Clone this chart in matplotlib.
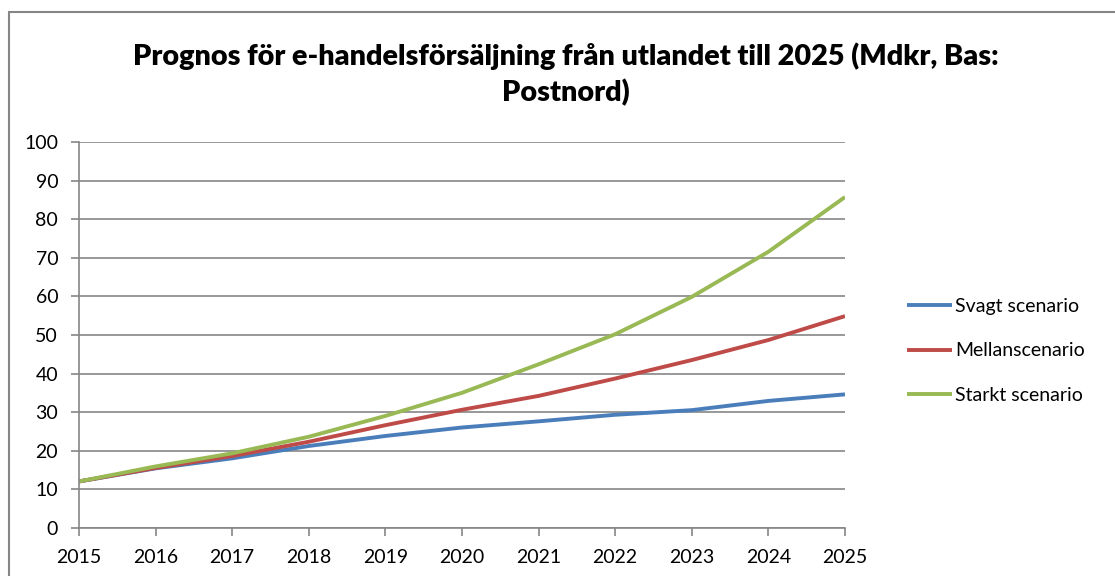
import matplotlib
matplotlib.use("Agg")
import matplotlib.pyplot as plt
from matplotlib.patches import Rectangle

plt.rcParams['font.family'] = ['Lato', 'DejaVu Sans']

years = [2015, 2016, 2017, 2018, 2019, 2020, 2021, 2022, 2023, 2024, 2025]
svagt = [12.0, 15.4, 18.0, 21.2, 23.8, 26.0, 27.6, 29.3, 30.5, 32.9, 34.6]
mellan = [12.0, 15.5, 18.6, 22.3, 26.6, 30.6, 34.2, 38.7, 43.5, 48.7, 54.9]
starkt = [12.0, 15.9, 19.3, 23.6, 29.0, 35.0, 42.4, 50.2, 59.9, 71.6, 85.8]
series_names = ["Svagt scenario", "Mellanscenario", "Starkt scenario"]
colors = ["#4a7ebb", "#be4b48", "#98b954"]
yticks = list(range(0, 101, 10))
title_lines = ["Prognos för e-handelsförsäljning från utlandet till 2025 (Mdkr, Bas:",
               "Postnord)"]

W, H = 1115, 576
fig = plt.figure(figsize=(W / 100, H / 100), dpi=100)
fig.patch.set_facecolor("white")

# outer chart border
fig.patches.append(Rectangle((9 / W, -0.05), 1.1, 1 - 12 / H + 0.05,
                             transform=fig.transFigure, fill=False,
                             edgecolor="#868686", linewidth=1.5))

ax = fig.add_axes([79 / W, 1 - 527.7 / H, (845 - 79) / W, (527.7 - 142.3) / H])
for vals, name, c in zip([svagt, mellan, starkt], series_names, colors):
    ax.plot(years, vals, color=c, linewidth=2.8, label=name, solid_capstyle="butt")

ax.set_xlim(2015, 2025)
ax.set_ylim(0, 100)
ax.set_xticks(years)
ax.set_yticks(yticks)
ax.tick_params(axis="both", colors="#868686", labelcolor="black", labelsize=14,
               length=6, width=1.2, direction="out")
ax.tick_params(axis="y", pad=9)
ax.tick_params(axis="x", pad=9)
ax.grid(axis="y", color="#868686", linewidth=1.2)
ax.set_axisbelow(True)
for s in ["top", "right"]:
    ax.spines[s].set_visible(False)
for s in ["left", "bottom"]:
    ax.spines[s].set_color("#868686")
    ax.spines[s].set_linewidth(1.2)

fig.text(566 / W, 1 - 56 / H, title_lines[0], ha="center", va="center",
         fontsize=20.7, fontweight="heavy")
fig.text(566 / W, 1 - 93 / H, title_lines[1], ha="center", va="center",
         fontsize=20.7, fontweight="heavy")

leg = ax.legend(loc="center left", bbox_to_anchor=((890 - 79) / 766, (527.7 - 351) / 385.4),
                frameon=False, fontsize=14, handlelength=2.3, handletextpad=0.15,
                labelspacing=1.42)

fig.savefig("out.png", dpi=100, facecolor="white")
